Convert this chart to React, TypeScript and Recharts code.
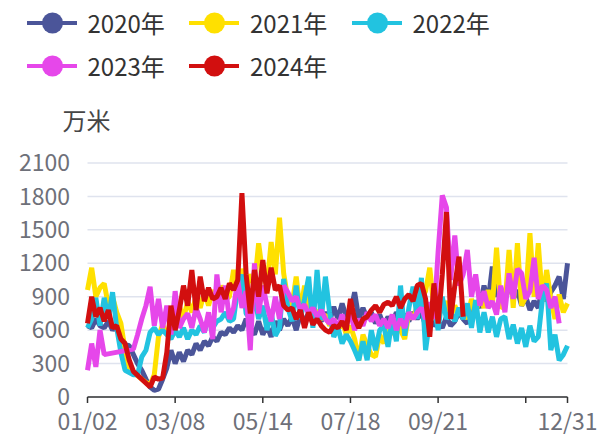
import { LineChart, Line, XAxis, YAxis, CartesianGrid, Legend } from 'recharts';

const FONT = "'Noto Sans CJK SC', 'Noto Sans', sans-serif";

const dates = (
  '01/02 01/05 01/08 01/11 01/14 01/17 01/20 01/23 01/26 01/29 02/01 02/04 02/07 02/10 02/13 02/16 02/19 02/22 02/25 02/28 03/04 ' +
  '03/08 03/11 03/14 03/17 03/20 03/23 03/26 03/29 04/01 04/04 04/07 04/10 04/13 04/16 04/19 04/22 04/25 04/28 05/02 05/06 05/10 ' +
  '05/14 05/17 05/20 05/23 05/26 05/29 06/01 06/04 06/07 06/10 06/13 06/16 06/19 06/22 06/25 06/28 07/01 07/04 07/07 07/10 07/14 ' +
  '07/18 07/21 07/24 07/27 07/30 08/02 08/05 08/08 08/11 08/14 08/17 08/20 08/23 08/26 08/29 09/01 09/04 09/07 09/10 09/13 09/17 ' +
  '09/21 09/24 09/27 09/30 10/03 10/06 10/09 10/12 10/15 10/18 10/21 10/24 10/27 10/30 11/02 11/05 11/08 11/11 11/14 11/17 11/20 ' +
  '11/23 11/27 12/01 12/05 12/09 12/13 12/17 12/21 12/24 12/27 12/31'
).split(' ');

const xTicks = ['01/02', '03/08', '05/14', '07/18', '09/21', '11/23', '12/31'];
const hiddenXLabel = '11/23';
const yTicks = [0, 300, 600, 900, 1200, 1500, 1800, 2100];

// 万米
const s2020 = [
  640, 620, 700, 640, 620, 680, 600, 640, 560, 470,
  460, 380, 300, 240, 160, 90, 60, 70, 160, 260,
  420, 300, 400, 320, 420, 380, 480, 420, 500, 460,
  540, 500, 580, 560, 620, 580, 640, 600, 700, 620,
  560, 680, 560, 640, 540, 680, 600, 700, 640, 720,
  600, 740, 680, 760, 700, 720, 680, 760, 680, 810,
  700, 840, 720, 760, 940, 700, 800, 700, 760, 660,
  740, 640, 720, 660, 760, 700, 740, 680, 760, 700,
  760, 640, 700, 640, 680, 620, 720, 640, 680, 760,
  700, 660, 760, 860, 800, 1000, 860, 1170, 900, 980,
  860, 1040, 880, 960, 820, 900, 780, 860, 800, 1000,
  860, 940, 1000, 1080, 880, 1200,
];

const s2021 = [
  960, 1160, 900, 980, 1020, 820, 900, 760, 660, 420,
  260, 220, 190, 160, 130, 110, 200, 540, 650, 560,
  620, 600, 820, 700, 860, 760, 900, 800, 940, 820,
  960, 850, 1000, 880, 900, 1140, 900, 1150, 960, 1100,
  1000, 1380, 1100, 1000, 1390, 1100, 1610, 1110, 880, 820,
  1080, 760, 1000, 720, 800, 760, 700, 740, 640, 700,
  600, 680, 560, 640, 520, 330, 560, 460, 380, 360,
  560, 480, 640, 560, 700, 600, 520, 760, 700, 820,
  880, 950, 1160, 800, 900, 760, 860, 720, 820, 740,
  800, 700, 880, 760, 900, 800, 960, 820, 1340, 800,
  820, 1320, 800, 1380, 820, 900, 1470, 900, 1380, 860,
  1140, 880, 700, 920, 760, 840,
];

const s2022 = [
  620, 700, 890, 640, 890, 700, 940, 620, 400, 240,
  220, 200, 200, 360, 420, 580, 620, 560, 600, 560,
  520, 600, 540, 620, 520, 600, 560, 640, 580, 720,
  620, 680, 700, 760, 680, 700, 980, 1100, 750, 700,
  900, 700, 820, 600, 760, 550, 620, 1060, 800, 680,
  1000, 700, 880, 1080, 620, 1140, 690, 1080, 760, 540,
  620, 480, 560, 500, 420, 330, 500, 330, 600, 420,
  600, 640, 450, 700, 500, 1000, 550, 800, 990, 700,
  1070, 420, 700, 820, 600, 900, 700, 760, 680, 800,
  700, 840, 620, 870, 580, 760, 580, 720, 540, 700,
  720, 520, 650, 480, 620, 450, 640, 500, 540, 880,
  1020, 420, 560, 330, 380, 460,
];

const s2023 = [
  240, 480, 270, 600, 380, null, null, null, null, null,
  null, 430, 560, 700, 820, 990, 640, 880, 620, 820,
  560, 950, 620, 700, 750, 620, 800, 700, 580, 760,
  520, 1100, 760, 1000, 700, 800, 1050, 800, 950, 420,
  1200, 750, 1000, 820, 680, 900, 700, 1000, 940, 860,
  900, 780, 830, 740, 800, 720, 780, 700, 660, 700,
  620, 740, 640, 760, 600, 700, 640, 760, 680, 740,
  640, 700, 620, 740, 600, 700, 620, 760, 700, 760,
  800, 700, 850, 700, 1300, 1810, 1700, 1050, 1450, 1000,
  1100, 1320, 900, 1100, 820, 950, 800, 860, 740, 1000,
  760, 1110, 880, 1150, 1110, 880, 950, 1250, 880, 1000,
  960, 800, 900, 660, null, null,
];

const s2024 = [
  660, 900, 720, 800, 680, 780, 620, 640, 520, 480,
  330, 230, null, null, null, 90, 180, 160, 170, 400,
  820, 600, 780, 1000, 820, 1140, 780, 1080, 860, 980,
  880, 900, 980, 880, 1020, 960, 1050, 1830, 1100, 750,
  1140, 900, 1230, 930, 1160, 960, 1000, 820, 780, 800,
  700, 780, 620, 760, 650, 700, 640, 600, 580, 640,
  620, 680, 600, 880, 700, 620, 700, 720, 780, 820,
  760, 830, 850, 820, 900, 800, 880, 920, 860, 1000,
  1020, 880, 540, 1020, 660, 1100, 1660, 700, 1000, 1260,
  720, null, null, null, null, null, null, null, null, null,
  null, null, null, null, null, null, null, null, null, null,
  null, null, null, null, null, null,
];

const series = [
  { key: 'y2020', name: '2020年', color: '#4b5599', values: s2020 },
  { key: 'y2021', name: '2021年', color: '#ffe000', values: s2021 },
  { key: 'y2022', name: '2022年', color: '#22c3e0', values: s2022 },
  { key: 'y2023', name: '2023年', color: '#e647ea', values: s2023 },
  { key: 'y2024', name: '2024年', color: '#d20f0f', values: s2024 },
];

const data = dates.map((date, i) => {
  const row: Record<string, string | number | null> = { date };
  series.forEach((s) => {
    row[s.key] = s.values[i] ?? null;
  });
  return row;
});

function renderLegend() {
  return (
    <div style={{ position: 'relative', width: 605, height: 90 }}>
      {series.map((s, i) => {
        const col = i % 3;
        const row = Math.floor(i / 3);
        return (
          <div
            key={s.key}
            style={{
              position: 'absolute',
              left: 26.5 + col * 162.5,
              top: 8.5 + row * 43.5,
              height: 28,
              display: 'flex',
              alignItems: 'center',
            }}
          >
            <svg width={50} height={28} style={{ display: 'block' }}>
              <line x1={0} y1={14} x2={50} y2={14} stroke={s.color} strokeWidth={4} />
              <circle cx={25.5} cy={14} r={10.5} fill={s.color} />
            </svg>
            <span
              style={{
                marginLeft: 11,
                fontSize: 24,
                lineHeight: '28px',
                color: '#333',
                fontFamily: FONT,
                whiteSpace: 'nowrap',
              }}
            >
              {s.name}
            </span>
          </div>
        );
      })}
    </div>
  );
}

function XTick(props: any) {
  const { x, y, payload } = props;
  if (payload.value === hiddenXLabel) return <g />;
  return (
    <text x={x} y={y} dy={25} textAnchor="middle" fill="#6e7079" fontSize={23} fontFamily={FONT}>
      {payload.value}
    </text>
  );
}

export default function App() {
  return (
    <div style={{ position: 'absolute', left: 0, top: 0, width: 605, height: 439, background: '#fff' }}>
      <LineChart width={605} height={439} data={data} margin={{ top: 163, right: 37.5, bottom: 12, left: 0 }}>
        <CartesianGrid vertical={false} stroke="#dfe3ee" strokeWidth={1.5} />
        <XAxis
          dataKey="date"
          ticks={xTicks}
          interval={0}
          height={30}
          tickSize={6}
          tickMargin={2}
          axisLine={{ stroke: '#333', strokeWidth: 1.5 }}
          tickLine={{ stroke: '#333', strokeWidth: 1.5 }}
          tick={XTick}
        />
        <YAxis
          type="number"
          domain={[0, 2100]}
          ticks={yTicks}
          interval={0}
          width={87.5}
          axisLine={false}
          tickLine={false}
          tickSize={0}
          tickMargin={17.5}
          tick={{ fill: '#6e7079', fontSize: 23, fontFamily: FONT }}
          label={{
            content: () => (
              <text x={86.5} y={130} textAnchor="middle" fill="#464646" fontSize={24} fontFamily={FONT}>
                万米
              </text>
            ),
          }}
        />
        <Legend
          layout="horizontal"
          verticalAlign="middle"
          align="center"
          wrapperStyle={{ top: 0, left: 0, width: 605, height: 90 }}
          content={renderLegend}
        />
        {series.map((s) => (
          <Line
            key={s.key}
            type="linear"
            dataKey={s.key}
            name={s.name}
            stroke={s.color}
            strokeWidth={5}
            strokeLinejoin="bevel"
            dot={false}
            activeDot={false}
            connectNulls
            isAnimationActive={false}
          />
        ))}
      </LineChart>
    </div>
  );
}
